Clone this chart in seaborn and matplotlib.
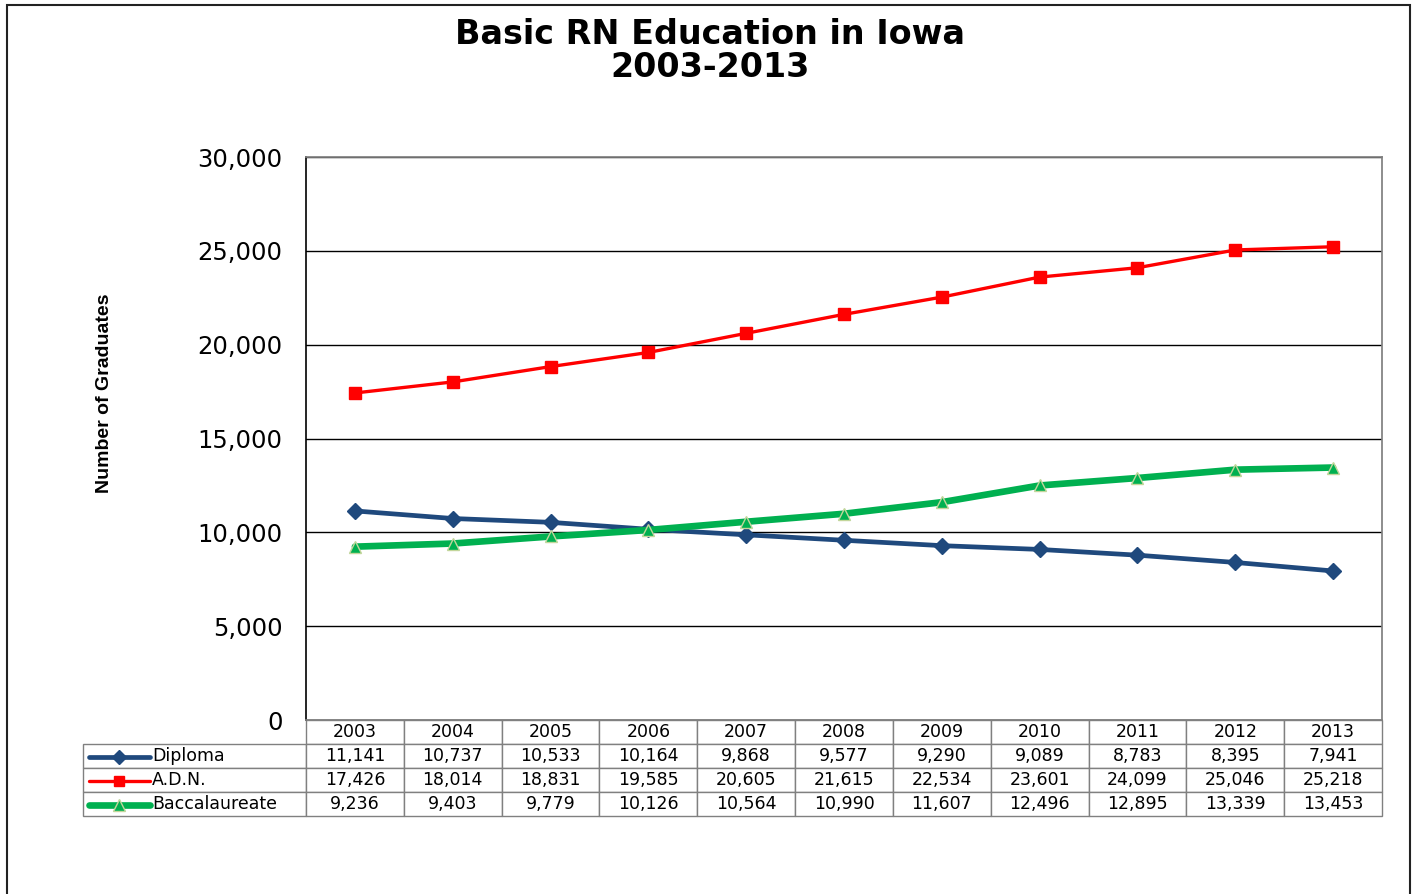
import numpy as np
import pandas as pd
import matplotlib
matplotlib.use("Agg")
import matplotlib.pyplot as plt
import seaborn as sns
from matplotlib.lines import Line2D
from matplotlib.patches import Rectangle
from matplotlib.table import Table

# data
years = ["2003", "2004", "2005", "2006", "2007", "2008", "2009", "2010", "2011", "2012", "2013"]
diploma = [11141, 10737, 10533, 10164, 9868, 9577, 9290, 9089, 8783, 8395, 7941]
adn = [17426, 18014, 18831, 19585, 20605, 21615, 22534, 23601, 24099, 25046, 25218]
bacc = [9236, 9403, 9779, 10126, 10564, 10990, 11607, 12496, 12895, 13339, 13453]
series_names = ["Diploma", "A.D.N.", "Baccalaureate"]

sns.set_theme(style="white")
plt.rcParams["font.family"] = ["Liberation Sans", "DejaVu Sans"]
plt.rcParams["text.color"] = "black"
plt.rcParams["ytick.color"] = "black"

W, H = 1413, 894
fig = plt.figure(figsize=(W / 100, H / 100), dpi=100)
fig.patch.set_facecolor("white")

def fx(px):
    return px / W

def fy(py):
    return 1 - py / H

# outer frame of the chart
fig.add_artist(Rectangle((fx(7), fy(930)), fx(1410) - fx(7), fy(5) - fy(930),
                         transform=fig.transFigure, fill=False, edgecolor="#222222", lw=1.5))

ax = fig.add_axes([fx(306), fy(720), fx(1382) - fx(306), fy(157) - fy(720)])

df = pd.DataFrame({"year": list(range(len(years))) * 3,
                   "graduates": diploma + adn + bacc,
                   "series": sum([[n] * len(years) for n in series_names], [])})

styles = {
    "Diploma": dict(color="#1F497D", lw=3.4, marker="D", ms=8, mfc="#1F497D", mec="#1F497D"),
    "A.D.N.": dict(color="#FF0000", lw=2.4, marker="s", ms=8, mfc="#FF0000", mec="#FF0000"),
    "Baccalaureate": dict(color="#00B050", lw=4.8, marker="^", ms=9, mfc="#00B050", mec="#C3D69B"),
}

for name in series_names:
    st = styles[name]
    sns.lineplot(data=df[df.series == name], x="year", y="graduates", ax=ax,
                 color=st["color"], lw=st["lw"], marker=st["marker"], markersize=st["ms"],
                 markerfacecolor=st["mfc"], markeredgecolor=st["mec"], markeredgewidth=1,
                 legend=False, zorder=3)

ax.set_xlim(-0.5, len(years) - 0.5)
ax.set_ylim(0, 30000)
ax.set_yticks(np.arange(0, 30001, 5000))
ax.set_yticklabels([f"{v:,}" for v in range(0, 30001, 5000)], fontsize=17.5, family="DejaVu Sans")
ax.tick_params(axis="y", length=0, pad=17)
ax.set_xticks([])
ax.set_xlabel("")
ax.set_ylabel("")
ax.grid(axis="y", color="black", lw=1)
for side in ["top", "right", "bottom"]:
    ax.spines[side].set_color("#808080")
ax.spines["left"].set_color("black")
ax.spines["left"].set_linewidth(1.2)

# data table under the plot (bbox covers the year columns, row labels hang to the left)
tbl = Table(ax, bbox=[0, -96 / 563, 1, 96 / 563])
colw = 1 / len(years)
labw = 223 / 1076
rowh = 24 / 563
for j, yr in enumerate(years):
    c = tbl.add_cell(0, j, width=colw, height=rowh, text=yr, loc="center", edgecolor="#808080")
    c.get_text().set_fontsize(12.5)
    c.get_text().set_family("DejaVu Sans")
for i, (name, vals) in enumerate(zip(series_names, [diploma, adn, bacc])):
    c = tbl.add_cell(i + 1, -1, width=labw, height=rowh, text=name, loc="left", edgecolor="#808080")
    c.PAD = 69 / 223
    c.get_text().set_fontsize(12.5)
    c.get_text().set_family("DejaVu Sans")
    for j, v in enumerate(vals):
        c = tbl.add_cell(i + 1, j, width=colw, height=rowh, text=f"{v:,}", loc="center", edgecolor="#808080")
        c.get_text().set_fontsize(12.5)
        c.get_text().set_family("DejaVu Sans")
tbl.auto_set_font_size(False)
ax.add_table(tbl)

# legend keys inside the table row labels
for i, name in enumerate(series_names):
    st = styles[name]
    yk = fy(757 + 24 * i)
    fig.add_artist(Line2D([fx(89), fx(150)], [yk, yk], color=st["color"], lw=st["lw"],
                          transform=fig.transFigure, solid_capstyle="round", zorder=5))
    fig.add_artist(Line2D([fx(119)], [yk], marker=st["marker"], ms=st["ms"] - 1, color=st["color"],
                          mfc=st["mfc"], mec=st["mec"], lw=0, transform=fig.transFigure, zorder=6))

fig.text(fx(710), fy(51), "Basic RN Education in Iowa\n2003-2013", ha="center", va="center",
         fontsize=24, fontweight="bold", family="DejaVu Sans", linespacing=1.0)
fig.text(fx(104), fy(393), "Number of Graduates", rotation=90, ha="center", va="center",
         fontsize=14, fontweight="bold", family="Liberation Sans")

fig.savefig("out.png", dpi=100)
